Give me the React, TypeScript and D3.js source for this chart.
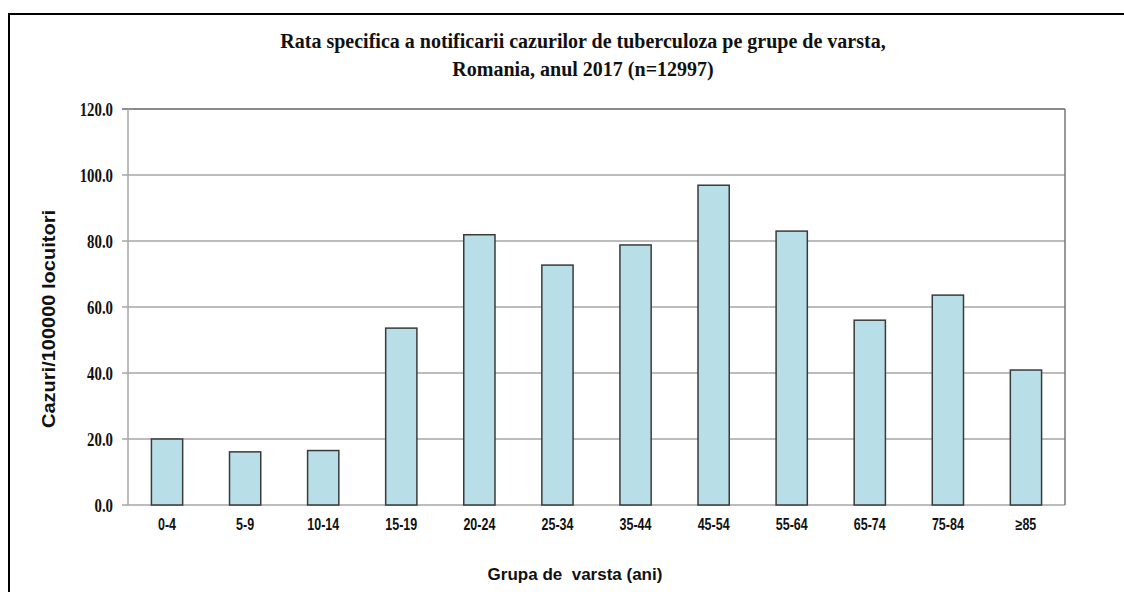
import React, { useRef, useEffect } from 'react';
import * as d3 from 'd3';

const categories = ['0-4', '5-9', '10-14', '15-19', '20-24', '25-34', '35-44', '45-54', '55-64', '65-74', '75-84', '≥85'];
const rates = [20.0, 16.1, 16.5, 53.6, 81.9, 72.7, 78.8, 96.9, 83.0, 56.0, 63.6, 40.9];
const yTicks = [0, 20, 40, 60, 80, 100, 120];

const titleLines = [
  'Rata specifica a notificarii cazurilor de tuberculoza pe grupe de varsta,',
  'Romania, anul 2017 (n=12997)',
];

function drawChart(svgEl: SVGSVGElement) {
  const width = 1124;
  const height = 592;
  const margin = { top: 109, right: 59, bottom: 87, left: 128 };

  const svg = d3.select(svgEl);
  svg.selectAll('*').remove();

  svg.append('rect').attr('width', width).attr('height', height).attr('fill', '#fff');

  // outer frame (only top and left visible)
  svg.append('rect')
    .attr('x', 9).attr('y', 14)
    .attr('width', width + 20).attr('height', height + 20)
    .attr('fill', 'none')
    .attr('stroke', '#000')
    .attr('stroke-width', 2);

  const x = d3.scaleBand()
    .domain(categories)
    .range([margin.left, width - margin.right])
    .paddingInner(0.6)
    .paddingOuter(0.3);

  const y = d3.scaleLinear()
    .domain([0, 120])
    .range([height - margin.bottom, margin.top]);

  // gridlines
  svg.append('g')
    .selectAll('line')
    .data(yTicks)
    .join('line')
    .attr('x1', margin.left - 6)
    .attr('x2', width - margin.right)
    .attr('y1', d => y(d))
    .attr('y2', d => y(d))
    .attr('stroke', d => (d === 120 ? '#666' : '#a6a6a6'))
    .attr('stroke-width', 1.5);

  // plot frame sides
  svg.append('line')
    .attr('x1', margin.left).attr('x2', margin.left)
    .attr('y1', y(120)).attr('y2', y(0))
    .attr('stroke', '#a6a6a6').attr('stroke-width', 1.5);
  svg.append('line')
    .attr('x1', width - margin.right).attr('x2', width - margin.right)
    .attr('y1', y(120)).attr('y2', y(0))
    .attr('stroke', '#777').attr('stroke-width', 1.5);

  // bars
  svg.append('g')
    .selectAll('rect')
    .data(rates)
    .join('rect')
    .attr('x', (d, i) => x(categories[i])!)
    .attr('y', d => y(d))
    .attr('width', x.bandwidth())
    .attr('height', d => y(0) - y(d))
    .attr('fill', '#b8dfe8')
    .attr('stroke', '#3a3a3a')
    .attr('stroke-width', 1.5);

  // y tick labels (condensed serif)
  svg.append('g')
    .selectAll('text')
    .data(yTicks)
    .join('text')
    .attr('transform', d => `translate(${margin.left - 15}, ${y(d)}) scale(0.78, 1)`)
    .attr('dy', '0.35em')
    .attr('text-anchor', 'end')
    .attr('font-family', '"Liberation Serif", serif')
    .attr('font-weight', 'bold')
    .attr('font-size', 19)
    .attr('fill', '#111')
    .text(d => d3.format('.1f')(d));

  // x tick labels (condensed sans)
  svg.append('g')
    .selectAll('text')
    .data(categories)
    .join('text')
    .attr('transform', d => `translate(${x(d)! + x.bandwidth() / 2}, ${y(0) + 25}) scale(0.78, 1)`)
    .attr('text-anchor', 'middle')
    .attr('font-family', '"Liberation Sans", Arial, sans-serif')
    .attr('font-weight', 'bold')
    .attr('font-size', 16)
    .attr('fill', '#111')
    .text(d => d);

  // title
  svg.append('g')
    .selectAll('text')
    .data(titleLines)
    .join('text')
    .attr('x', 583)
    .attr('y', (d, i) => 48 + i * 28)
    .attr('text-anchor', 'middle')
    .attr('font-family', '"Liberation Serif", serif')
    .attr('font-weight', 'bold')
    .attr('font-size', 20)
    .attr('fill', '#111')
    .text(d => d);

  // axis titles
  svg.append('text')
    .attr('transform', 'translate(55, 319) rotate(-90)')
    .attr('text-anchor', 'middle')
    .attr('font-family', '"Liberation Sans", Arial, sans-serif')
    .attr('font-weight', 'bold')
    .attr('font-size', 18)
    .attr('fill', '#111')
    .attr('textLength', 218)
    .attr('lengthAdjust', 'spacingAndGlyphs')
    .text('Cazuri/100000 locuitori');

  svg.append('text')
    .attr('x', 575)
    .attr('y', 580)
    .attr('text-anchor', 'middle')
    .attr('font-family', '"Liberation Sans", Arial, sans-serif')
    .attr('font-weight', 'bold')
    .attr('font-size', 17)
    .attr('fill', '#111')
    .attr('xml:space', 'preserve')
    .style('white-space', 'pre')
    .text('Grupa de  varsta (ani)');
}

export default function App() {
  const ref = useRef<SVGSVGElement>(null);

  useEffect(() => {
    if (ref.current) drawChart(ref.current);
  }, []);

  return (
    <div style={{ position: 'absolute', left: 0, top: 0 }}>
      <svg ref={ref} width={1124} height={592} style={{ display: 'block' }} />
    </div>
  );
}
